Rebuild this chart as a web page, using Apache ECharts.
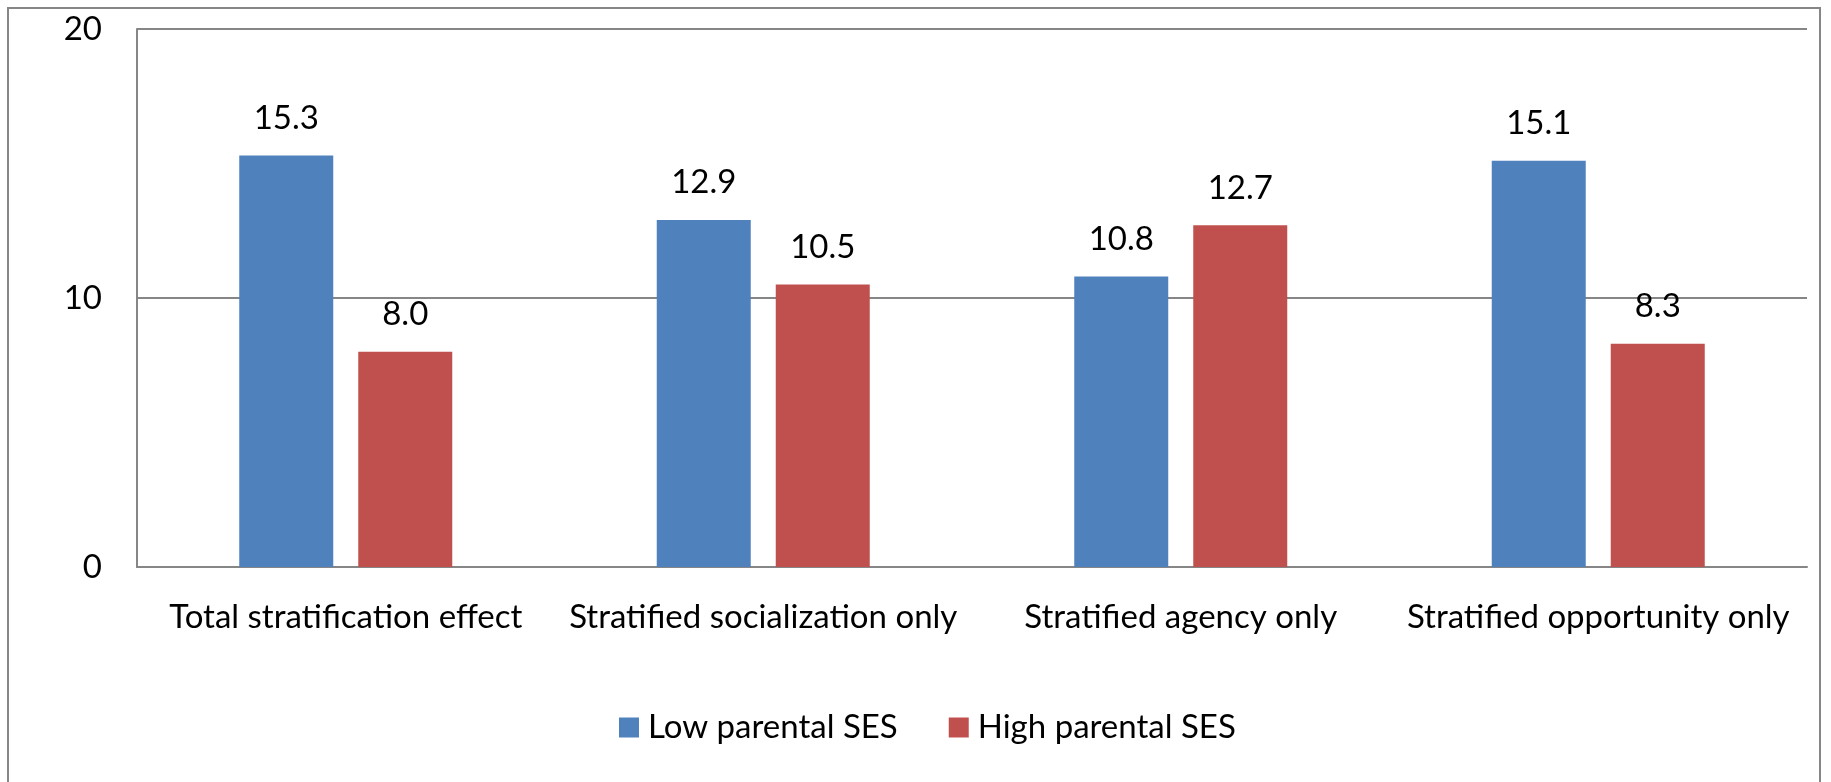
<!DOCTYPE html>
<html>
<head>
<meta charset="utf-8">
<script src="https://cdn.jsdelivr.net/npm/echarts@6/dist/echarts.min.js"></script>
<style>
html,body{margin:0;padding:0;background:#fff;}
#chart{width:1831px;height:782px;}
</style>
</head>
<body>
<div id="chart"></div>
<script>
var categories = ['Total stratification effect', 'Stratified socialization only', 'Stratified agency only', 'Stratified opportunity only'];
var seriesNames = ['Low parental SES', 'High parental SES'];
var lowSES = [15.3, 12.9, 10.8, 15.1];
var highSES = [8.0, 10.5, 12.7, 8.3];
var yTicks = [0, 10, 20];

var FONT = 'Lato';
var FS = 33;
var chart = echarts.init(document.getElementById('chart'));
var gray = '#868686';
chart.setOption({
  animation: false,
  backgroundColor: '#fff',
  graphic: [{
    type: 'rect',
    shape: {x: 8, y: 8, width: 1812, height: 800},
    style: {fill: 'none', stroke: gray, lineWidth: 2},
    silent: true,
    z: -10
  }],
  grid: {left: 137, right: 24, top: 29, bottom: 215},
  legend: {
    data: seriesNames,
    left: 614,
    top: 706,
    itemWidth: 20,
    itemHeight: 20,
    itemGap: 51,
    icon: 'rect',
    textStyle: {fontFamily: FONT, fontSize: FS, color: '#000', padding: [0, 0, 0, 4]}
  },
  xAxis: {
    type: 'category',
    data: categories,
    axisLine: {show: true, lineStyle: {color: gray, width: 2}},
    axisTick: {show: false},
    axisLabel: {fontFamily: FONT, fontSize: FS, color: '#000', margin: 34, interval: 0}
  },
  yAxis: {
    type: 'value',
    min: yTicks[0],
    max: yTicks[yTicks.length - 1],
    interval: 10,
    axisLine: {show: true, lineStyle: {color: gray, width: 2}},
    axisTick: {show: false},
    splitLine: {show: true, lineStyle: {color: gray, width: 2}},
    axisLabel: {fontFamily: FONT, fontSize: FS, color: '#000', margin: 35, padding: [8, 0, 0, 0]}
  },
  series: [{
    name: seriesNames[0],
    type: 'bar',
    data: lowSES,
    barWidth: 94,
    barGap: '26.6%',
    itemStyle: {color: '#4F81BD'},
    label: {show: true, position: 'top', distance: 21, fontFamily: FONT, fontSize: FS, color: '#000',
      formatter: function (p) { return p.value.toFixed(1); }}
  }, {
    name: seriesNames[1],
    type: 'bar',
    data: highSES,
    barWidth: 94,
    itemStyle: {color: '#C0504D'},
    label: {show: true, position: 'top', distance: 21, fontFamily: FONT, fontSize: FS, color: '#000',
      formatter: function (p) { return p.value.toFixed(1); }}
  }]
});
</script>
</body>
</html>
